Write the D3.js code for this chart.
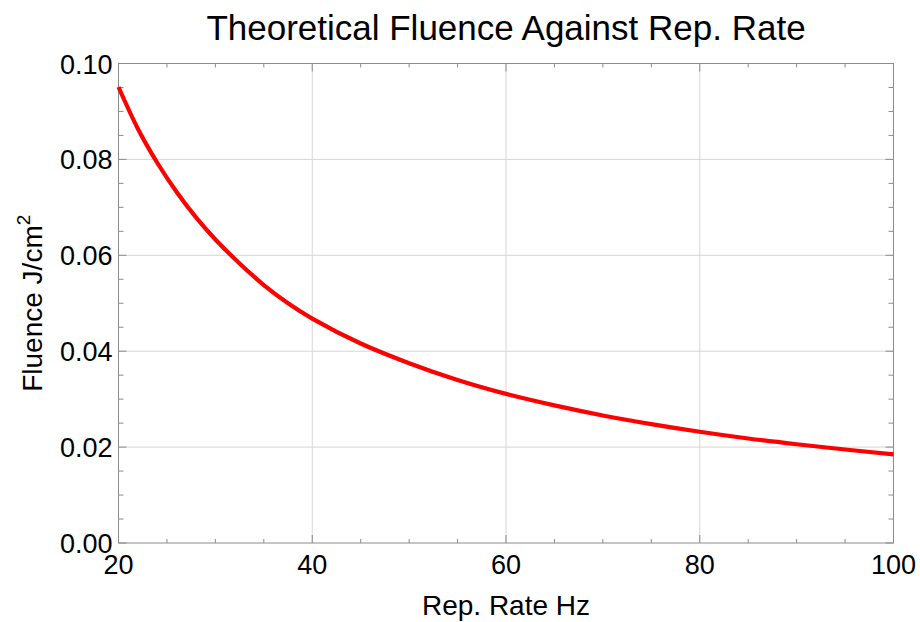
<!DOCTYPE html>
<html>
<head>
<meta charset="utf-8">
<script src="https://cdn.jsdelivr.net/npm/d3@7"></script>
<style>
  body { margin: 0; background: #fff; }
  text { font-family: "Liberation Sans", Arial, sans-serif; fill: #000; }
</style>
</head>
<body>
<div id="chart"></div>
<script>
    var width = 920,
        height = 622;

    // rep. rate (Hz) and fluence (J/cm^2)
    var repRate = [20, 22, 24, 26, 28, 30, 32.5, 35, 37.5, 40, 45, 50, 55, 60, 65, 70, 75, 80, 85, 90, 95, 100];
    var fluence = [0.0951, 0.0864, 0.0793, 0.0732, 0.0679, 0.0633, 0.0583, 0.0538, 0.0500, 0.0468,
                   0.0416, 0.0375, 0.0340, 0.0311, 0.0287, 0.0266, 0.0248, 0.0232, 0.0218, 0.0206, 0.0195, 0.0185];

    var xTicks = [20, 40, 60, 80, 100];
    var yTicks = [0, 0.02, 0.04, 0.06, 0.08, 0.10];
    var xMinor = d3.range(20, 100.1, 5);
    var yMinor = d3.range(0, 0.1001, 0.005);

    var margin = {left: 118.5, top: 63.5, right: 920 - 893.5, bottom: 622 - 543};

    var svg = d3.select("#chart")
        .append("svg")
        .attr("width", width)
        .attr("height", height);

    var x = d3.scaleLinear().domain([20, 100]).range([margin.left, width - margin.right]);
    var y = d3.scaleLinear().domain([0, 0.1]).range([height - margin.bottom, margin.top]);

    var x0 = x.range()[0], x1 = x.range()[1], y0 = y.range()[0], y1 = y.range()[1];

    // grid
    svg.append("g").selectAll("line")
        .data(xTicks.slice(1, -1))
        .enter().append("line")
        .attr("x1", function(d) { return x(d); })
        .attr("x2", function(d) { return x(d); })
        .attr("y1", y0).attr("y2", y1)
        .attr("stroke", "#d6d6d6").attr("stroke-width", 1);

    svg.append("g").selectAll("line")
        .data(yTicks.slice(1, -1))
        .enter().append("line")
        .attr("y1", function(d) { return y(d); })
        .attr("y2", function(d) { return y(d); })
        .attr("x1", x0).attr("x2", x1)
        .attr("stroke", "#d6d6d6").attr("stroke-width", 1);

    // ticks on all four sides, pointing inward
    var tickColor = "#8c8c8c";
    function isMajorX(d) { return xTicks.indexOf(d) >= 0; }
    function isMajorY(d) { return yTicks.some(function(t) { return Math.abs(t - d) < 1e-9; }); }

    var tk = svg.append("g").attr("stroke", tickColor).attr("stroke-width", 1);
    xMinor.forEach(function(d) {
        var len = isMajorX(d) ? 8 : 4;
        tk.append("line").attr("x1", x(d)).attr("x2", x(d)).attr("y1", y0).attr("y2", y0 - len);
        tk.append("line").attr("x1", x(d)).attr("x2", x(d)).attr("y1", y1).attr("y2", y1 + len);
    });
    yMinor.forEach(function(d) {
        var len = isMajorY(d) ? 8 : 5;
        tk.append("line").attr("y1", y(d)).attr("y2", y(d)).attr("x1", x0).attr("x2", x0 + len);
        tk.append("line").attr("y1", y(d)).attr("y2", y(d)).attr("x1", x1).attr("x2", x1 - len);
    });

    // frame
    svg.append("rect")
        .attr("x", x0).attr("y", y1)
        .attr("width", x1 - x0).attr("height", y0 - y1)
        .attr("fill", "none")
        .attr("stroke", tickColor)
        .attr("stroke-width", 1);

    // curve
    var line = d3.line()
        .x(function(d, i) { return x(repRate[i]); })
        .y(function(d) { return y(d); })
        .curve(d3.curveCatmullRom.alpha(0.5));

    svg.append("path")
        .datum(fluence)
        .attr("d", line)
        .attr("fill", "none")
        .attr("stroke", "#ff0000")
        .attr("stroke-width", 4.2)
        .attr("stroke-linecap", "butt");

    // tick labels
    svg.append("g").selectAll("text")
        .data(xTicks)
        .enter().append("text")
        .attr("x", function(d) { return x(d); })
        .attr("y", y0 + 31)
        .attr("text-anchor", "middle")
        .style("font-size", "27px")
        .text(function(d) { return d; });

    svg.append("g").selectAll("text")
        .data(yTicks)
        .enter().append("text")
        .attr("x", x0 - 6)
        .attr("y", function(d) { return y(d) + 10; })
        .attr("text-anchor", "end")
        .style("font-size", "27px")
        .text(function(d) { return d3.format(".2f")(d); });

    // titles
    svg.append("text")
        .attr("x", (x0 + x1) / 2)
        .attr("y", 40)
        .attr("text-anchor", "middle")
        .style("font-size", "35px")
        .text("Theoretical Fluence Against Rep. Rate");

    svg.append("text")
        .attr("x", (x0 + x1) / 2)
        .attr("y", 615)
        .attr("text-anchor", "middle")
        .style("font-size", "28px")
        .text("Rep. Rate Hz");

    var yl = svg.append("text")
        .attr("transform", "translate(42," + ((y0 + y1) / 2) + ") rotate(-90)")
        .attr("text-anchor", "middle")
        .style("font-size", "28px");
    yl.append("tspan").text("Fluence J/cm");
    yl.append("tspan").attr("dy", -12).style("font-size", "19px").text("2");
</script>
</body>
</html>
